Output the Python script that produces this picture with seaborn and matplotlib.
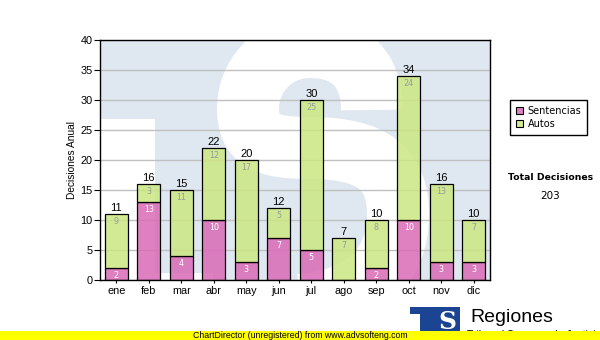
import numpy as np
import pandas as pd
import matplotlib
matplotlib.use("Agg")
import matplotlib.pyplot as plt
from matplotlib.path import Path
from matplotlib.patches import PathPatch, Rectangle, Patch
from matplotlib.colors import to_rgba
import seaborn as sns

# ---- data -------------------------------------------------------------
meses = ["ene", "feb", "mar", "abr", "may", "jun",
         "jul", "ago", "sep", "oct", "nov", "dic"]
sentencias = [2, 13, 4, 10, 3, 7, 5, 0, 2, 10, 3, 3]
autos = [9, 3, 11, 12, 17, 5, 25, 7, 8, 24, 13, 7]
series = ["Sentencias", "Autos"]
y_ticks = [0, 5, 10, 15, 20, 25, 30, 35, 40]

totales = [s + a for s, a in zip(sentencias, autos)]
df = pd.DataFrame({"mes": meses, "Sentencias": sentencias,
                   "Autos": autos, "Total": totales})

# ---- styling ------------------------------------------------------------
W, H = 600, 340
ARIAL = "Liberation Sans"
VERDANA = "DejaVu Sans"
pink = "#da6ab5"
green = "#cce781"
bg_blue = "#dfe8f1"

fig = plt.figure(figsize=(W / 100, H / 100), dpi=100)
fig.patch.set_facecolor("white")

# plot area in pixel terms: x 100..490, y 40..280
ax = fig.add_axes([100 / W, (H - 280) / H, 390 / W, 240 / H])
ax.set_facecolor(bg_blue)


def px(x, y):
    """Pixel position inside the plot area -> axes fraction."""
    return ((x - 100) / 390, (280 - y) / 240)


# faint "TS" emblem behind the bars
ax.add_patch(Rectangle(px(100, 280), 55 / 390, (280 - 119) / 240,
                       transform=ax.transAxes, facecolor="white",
                       lw=0, zorder=0.2))
ax.add_patch(Rectangle(px(100, 280), 113 / 390, 7 / 240,
                       transform=ax.transAxes, facecolor="white",
                       lw=0, zorder=0.2))
s_pts = [(372, 110),
         (372, 72), (352, 47), (310, 47),
         (272, 47), (248, 78), (248, 108),
         (248, 140), (265, 148), (310, 148),
         (375, 148), (398, 170), (398, 215),
         (398, 265), (365, 300), (300, 305)]
s_codes = [Path.MOVETO] + [Path.CURVE4] * (len(s_pts) - 1)
ax.add_patch(PathPatch(Path([px(*p) for p in s_pts], s_codes),
                       transform=ax.transAxes, facecolor="none",
                       edgecolor="white", lw=62 * 0.72,
                       capstyle="butt", zorder=0.2))

# ---- stacked bars -----------------------------------------------------------
common = dict(width=0.71, edgecolor="black", linewidth=0.9,
              saturation=1, errorbar=None, ax=ax, zorder=2)
sns.barplot(data=df, x="mes", y="Sentencias", color=pink, **common)
sns.barplot(data=df, x="mes", y="Autos", color=green,
            bottom=df["Sentencias"].to_numpy(), **common)

bars = [p for p in ax.patches if isinstance(p, Rectangle) and p.get_zorder() == 2]
for k, p in enumerate(bars):
    base = pink if k < len(meses) else green
    p.set_facecolor(to_rgba(base, 0.85))
    p.set_edgecolor("black")

# value labels
for i, (s, a, t) in enumerate(zip(sentencias, autos, totales)):
    ax.annotate(str(t), (i, t), xytext=(0, 4.6), textcoords="offset points",
                ha="center", va="center", fontsize=8, family=ARIAL,
                color="black", zorder=4)
    if a > 0:
        ax.annotate(str(a), (i, t), xytext=(0, -5.2), textcoords="offset points",
                    ha="center", va="center", fontsize=5.8, family=VERDANA,
                    color="#9a9a9a", zorder=4)
    if s > 0:
        ax.annotate(str(s), (i, s), xytext=(0, -5.2), textcoords="offset points",
                    ha="center", va="center", fontsize=5.8, family=VERDANA,
                    color="white", zorder=4)

# ---- axes -------------------------------------------------------------
ax.set_xlim(-0.5, len(meses) - 0.5)
ax.set_ylim(0, 40)
ax.set_yticks(y_ticks)
ax.set_yticklabels([str(v) for v in y_ticks], family=ARIAL, fontsize=7.8)
ax.set_xticks(range(len(meses)))
ax.set_xticklabels(meses, family=ARIAL, fontsize=7.8)
ax.yaxis.grid(True, color="#c0c0c0", lw=1)
ax.xaxis.grid(False)
ax.set_axisbelow(True)
ax.tick_params(axis="y", length=4, width=0.8, pad=1.2, colors="black")
ax.tick_params(axis="x", length=2.5, width=0.8, pad=1.5, colors="black")
ax.set_xlabel("")
ax.set_ylabel("Decisiones Anual", family=ARIAL, fontsize=7.3)
ax.yaxis.set_label_coords(-0.059, 0.5)
for sp in ax.spines.values():
    sp.set_color("black")
    sp.set_linewidth(1)
    sp.set_zorder(5)

# ---- legend & summary ---------------------------------------------------
handles = [Patch(facecolor=to_rgba(pink, 0.85), edgecolor="black", lw=0.8),
           Patch(facecolor=to_rgba(green, 0.85), edgecolor="black", lw=0.8)]
leg = fig.legend(handles, series, loc="upper left",
                 bbox_to_anchor=(510 / W, 1 - 100 / H), frameon=True,
                 fancybox=False, edgecolor="black", framealpha=1,
                 prop={"family": VERDANA, "size": 7},
                 handlelength=0.75, handleheight=0.75, handletextpad=0.45,
                 borderpad=0.6, labelspacing=0.3, borderaxespad=0)
leg.get_frame().set_linewidth(1)

fig.text(551 / W, 1 - 177 / H, "Total Decisiones", ha="center", va="center",
         family=VERDANA, fontsize=6.7, fontweight="bold")
fig.text(550 / W, 1 - 196 / H, str(sum(totales)), ha="center", va="center",
         family=VERDANA, fontsize=7.5)

# ---- footer logo ----------------------------------------------------------
navy = "#1b4593"
fig.add_artist(Rectangle((410 / W, 0), 50 / W, (H - 307) / H,
                         transform=fig.transFigure, facecolor=navy,
                         lw=0, zorder=1))
fig.add_artist(Rectangle((410 / W, 0), 10 / W, (H - 314) / H,
                         transform=fig.transFigure, facecolor="white",
                         lw=0, zorder=1.1))
fig.text(447 / W, 1 - 322 / H, "S", ha="center", va="center", color="white",
         family="DejaVu Serif", fontweight="bold", fontsize=18, zorder=1.2)
fig.text(470 / W, 1 - 322 / H, "Regiones", ha="left", va="baseline",
         family=ARIAL, fontsize=14, color="black", zorder=1.2)
fig.text(467 / W, 1 - 335 / H, "Tribunal Supremo de Justicia", ha="left",
         va="center", family=ARIAL, fontsize=7.5, color="black", zorder=1.2)

# ---- watermark strip ------------------------------------------------------
fig.add_artist(Rectangle((0, 0), 1, 9 / H, transform=fig.transFigure,
                         facecolor="#ffff00", lw=0, zorder=2))
fig.text(0.5, 4.5 / H, "ChartDirector (unregistered) from www.advsofteng.com",
         ha="center", va="center", family=ARIAL, fontsize=6.3,
         color="black", zorder=3)

fig.savefig("out.png", dpi=100, facecolor="white")
